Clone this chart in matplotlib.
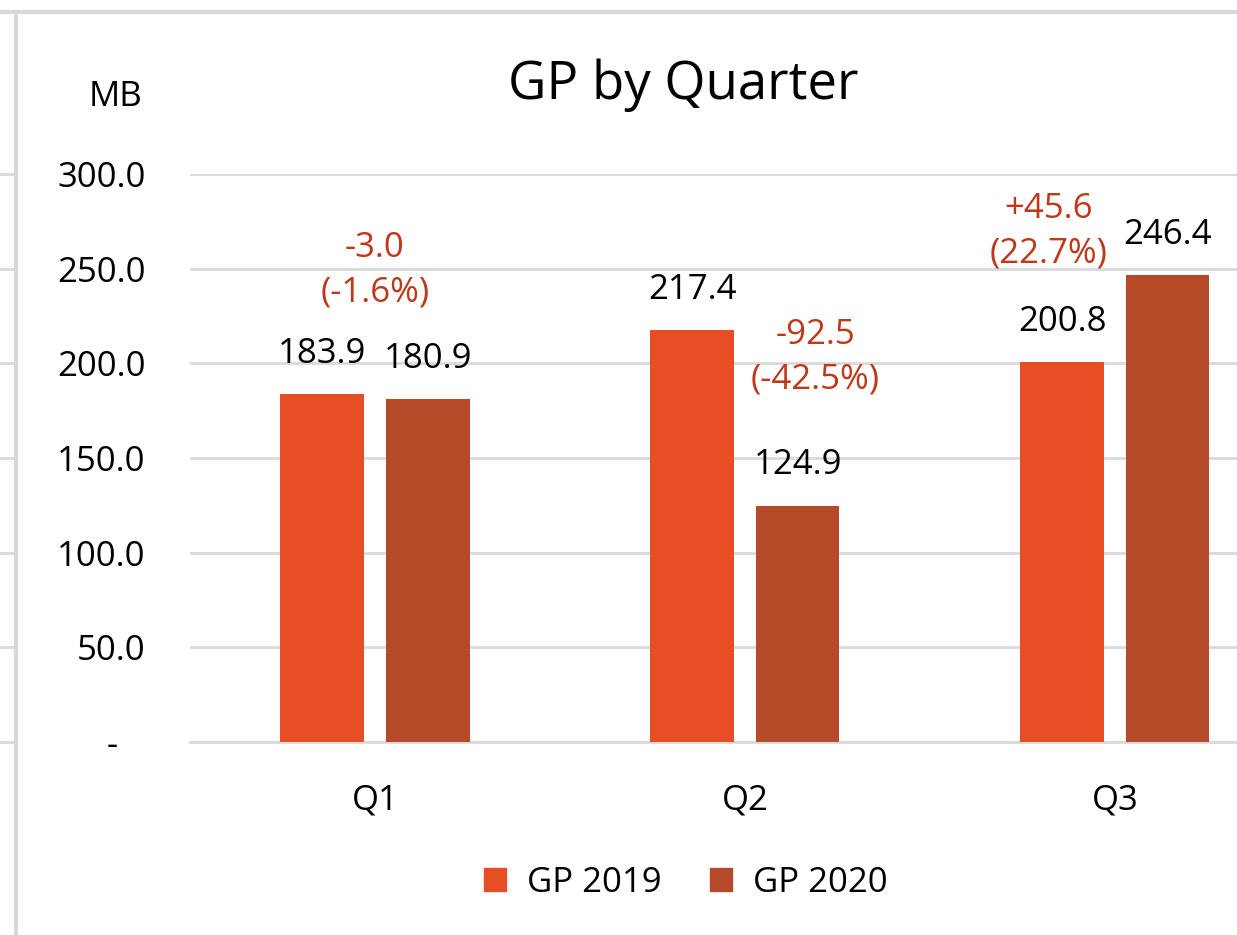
import matplotlib

matplotlib.use("Agg")
import matplotlib.pyplot as plt  # noqa: E402
import numpy as np  # noqa: E402
from matplotlib.lines import Line2D  # noqa: E402
from matplotlib.patches import Patch  # noqa: E402
from matplotlib.ticker import FuncFormatter  # noqa: E402

quarters = ["Q1", "Q2", "Q3"]
gp_2019 = [183.9, 217.4, 200.8]
gp_2020 = [180.9, 124.9, 246.4]
series_labels = ["GP 2019", "GP 2020"]

COLOR_2019 = "#E84E25"
COLOR_2020 = "#B54A28"
NOTE_COLOR = "#C0381A"
GRID_COLOR = "#D9D9D9"

# where each change note sits (x offset from category, y in data units)
NOTE_X_OFFSET = [0.0, 0.19, -0.18]
NOTE_Y = [249, 203, 270]

plt.rcParams["font.family"] = ["Open Sans", "DejaVu Sans"]

W, H = 1237, 935
fig = plt.figure(figsize=(W / 100, H / 100), dpi=100)
ax = fig.add_axes([190 / W, (H - 742) / H, (W - 190) / W, 568 / H])

positions = np.arange(len(quarters))
bar_w = 0.225
offset = 0.143
ax.bar(positions - offset, gp_2019, width=bar_w, color=COLOR_2019, zorder=3)
ax.bar(positions + offset, gp_2020, width=bar_w, color=COLOR_2020, zorder=3)

ax.set_xlim(-0.5, 2.33)
ax.set_ylim(0, 300)
ax.set_yticks(np.arange(0, 301, 50))
ax.yaxis.set_major_formatter(FuncFormatter(lambda v, _: "-   " if v == 0 else f"{v:.1f}"))
ax.set_xticks(positions)
ax.set_xticklabels(quarters)
ax.tick_params(axis="y", length=0, pad=32, labelsize=25)
ax.tick_params(axis="x", length=0, pad=30, labelsize=25)
for side in ["top", "right", "left"]:
    ax.spines[side].set_visible(False)
ax.spines["bottom"].set_color(GRID_COLOR)
ax.spines["bottom"].set_linewidth(2)
ax.grid(axis="y", color=GRID_COLOR, linewidth=2, zorder=0)
ax.set_axisbelow(True)

# value labels above bars
for xs, vals in [(positions - offset, gp_2019), (positions + offset, gp_2020)]:
    for x, v in zip(xs, vals):
        ax.annotate(f"{v:.1f}", (x, v), xytext=(0, 29), textcoords="offset points",
                    ha="center", va="center", fontsize=25)

# change notes
for i, (a, b) in enumerate(zip(gp_2019, gp_2020)):
    diff = b - a
    pct = diff / a * 100
    sign = "+" if diff > 0 else ""
    ax.text(i + NOTE_X_OFFSET[i], NOTE_Y[i], f"{sign}{diff:.1f}\n({pct:.1f}%)",
            ha="center", va="center", fontsize=25, color=NOTE_COLOR,
            linespacing=1.4, clip_on=False)

fig.text(683 / W, 1 - 85 / H, "GP by Quarter", ha="center", va="center", fontsize=38)
fig.text(115 / W, 1 - 97 / H, "MB", ha="center", va="center", fontsize=25)

handles = [Patch(color=COLOR_2019), Patch(color=COLOR_2020)]
fig.legend(handles, series_labels, loc="center", bbox_to_anchor=(686 / W, 1 - 883 / H),
           ncol=2, frameon=False, fontsize=25, handlelength=0.63, handleheight=0.63,
           handletextpad=0.6, columnspacing=1.4)

# spreadsheet cell borders around the chart
fig.add_artist(Line2D([0, 1], [1 - 12 / H] * 2, transform=fig.transFigure, color=GRID_COLOR, lw=3))
fig.add_artist(Line2D([16 / W] * 2, [0, 1 - 12 / H], transform=fig.transFigure, color=GRID_COLOR, lw=3))
for t in ax.get_yticks():
    ax.plot([-190 / (W - 190), -175 / (W - 190)], [t, t], transform=ax.get_yaxis_transform(),
            color=GRID_COLOR, lw=2, clip_on=False)

fig.savefig("out.png", dpi=100)
